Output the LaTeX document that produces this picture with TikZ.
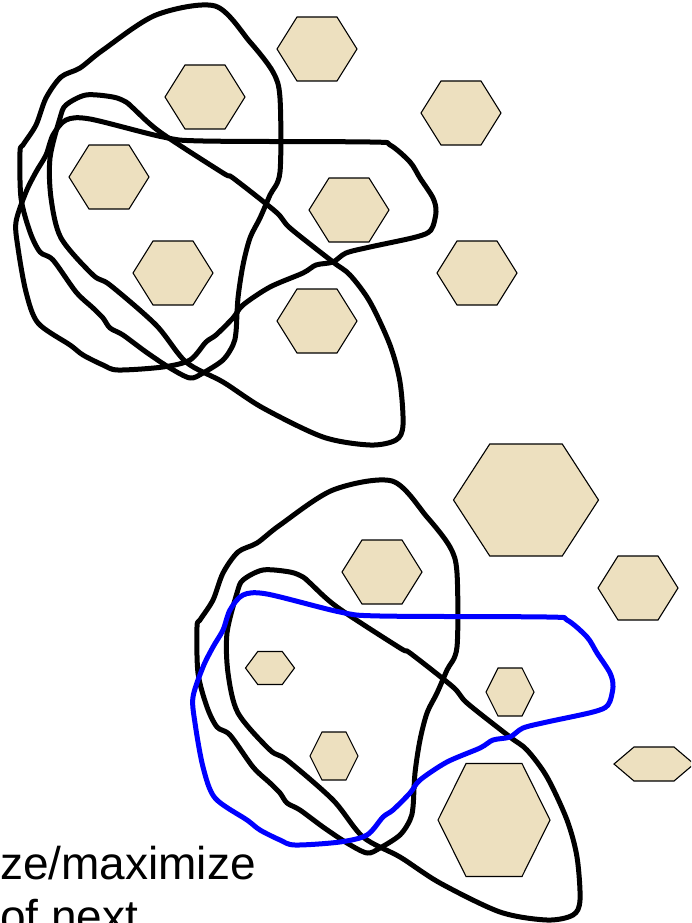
\documentclass[tikz,border=0pt]{standalone}
\usepackage{fontspec}
\setmainfont{Liberation Sans}
\usepackage{xcolor}
\usepackage{tikz}
\usetikzlibrary{positioning,calc}

\definecolor{sand}{RGB}{237,224,191}

\begin{document}
\begin{tikzpicture}[x=1pt, y=-1pt,
  cell/.style={draw=black, fill=sand, line width=1.1pt, line join=miter},
  lasso/.style={draw=black, line width=5pt, line join=round}]

  \clip (0,0) rectangle (691,923);

  % Hexagonal cells, upper picture
  \foreach \cx/\cy/\w/\h in {317/49/80/64, 205/97/80/64, 461/113/80/64, 109/177/80/64,
                             349/210/80/64, 173/273/80/64, 477/273/80/64, 317/321/80/64}
    \draw[cell] (\cx-\w/2,\cy) -- ++(\w/4,-\h/2) -- ++(\w/2,0) -- ++(\w/4,\h/2)
                -- ++(-\w/4,\h/2) -- ++(-\w/2,0) -- cycle;

  % Hexagonal cells, lower picture (varying sizes)
  \foreach \cx/\cy/\w/\h in {526/500/145/112, 382/572/80/64, 638/588/80/64, 270/668/49/33,
                             510/692/48/48, 334/756/48/48, 494/820/112/113, 654/764/80/34}
    \draw[cell] (\cx-\w/2,\cy) -- ++(\w/4,-\h/2) -- ++(\w/2,0) -- ++(\w/4,\h/2)
                -- ++(-\w/4,\h/2) -- ++(-\w/2,0) -- cycle;

  % Lassos: same three loops twice, last one blue below
  \foreach \dx/\dy/\ccol in {-177/-475/black, 0/0/blue} {
    \begin{scope}[shift={(\dx,\dy)}]
      \draw[lasso] plot[smooth cycle, tension=0.5] coordinates {
        (392,481) (333,490) (280,525) (257,543) (238,552) (223,573) (213,600) (200,620)
        (197,627) (198,673) (207,707) (217,727) (230,735) (253,767) (270,783) (280,793)
        (287,803) (300,810) (323,827) (347,843) (367,853) (380,848) (400,835) (410,820)
        (413,807) (415,773) (420,740) (427,713) (437,693) (447,670) (457,647) (457,573)
        (450,547) (427,517)};
      \draw[lasso] plot[smooth cycle, tension=0.5] coordinates {
        (243,580) (263,570) (290,572) (303,577) (310,583) (337,607) (400,648) (410,653)
        (453,687) (467,703) (510,737) (527,750) (547,777) (567,820) (577,857) (580,900)
        (573,915) (547,920) (500,912) (440,883) (400,857) (363,837) (333,800) (287,760)
        (270,750) (238,713) (228,673) (227,633) (237,593)};
      \draw[lasso, draw=\ccol] plot[smooth cycle, tension=0.5] coordinates {
        (243,595) (267,594) (340,612) (380,616) (547,617) (567,620) (587,637) (597,653)
        (610,673) (613,687) (608,705) (593,712) (547,722) (523,728) (510,737) (493,740)
        (480,748) (447,762) (420,780) (410,793) (393,810) (383,817) (367,835) (340,842)
        (295,845) (280,840) (260,830) (247,820) (215,798) (203,767) (195,723) (193,697)
        (203,667) (213,647) (223,630) (230,610)};
    \end{scope}
  }

  \node[anchor=base west, inner sep=0pt, align=left,
        font=\fontsize{46}{53}\selectfont] (caption) at (0,932) {ze/maximize\\of next};
\end{tikzpicture}
\end{document}
